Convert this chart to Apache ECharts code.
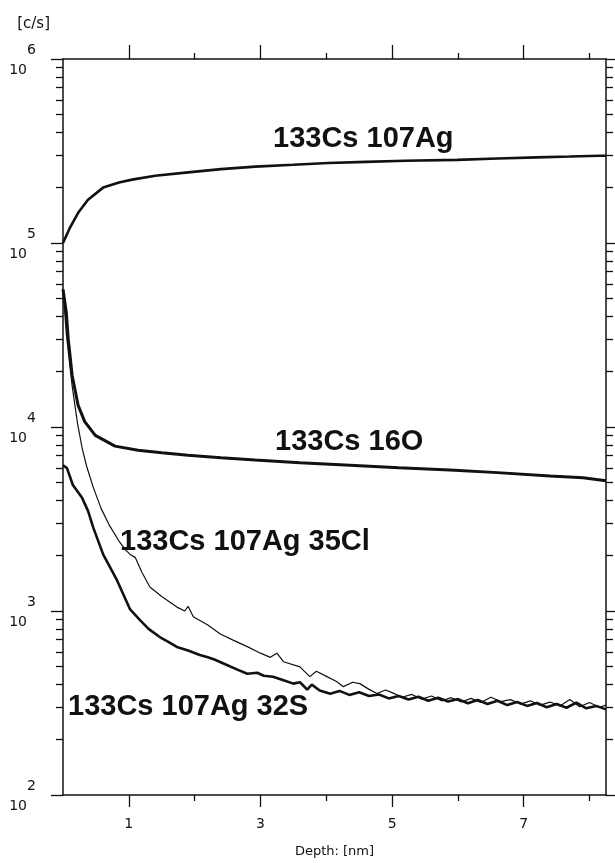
<!DOCTYPE html>
<html>
<head>
<meta charset="utf-8">
<script src="https://cdn.jsdelivr.net/npm/echarts@6/dist/echarts.min.js"></script>
<style>
  html, body { margin: 0; padding: 0; background: #fff; }
  #chart { width: 615px; height: 863px; }
</style>
</head>
<body>
<div id="chart"></div>
<script>
// depth profile, counts per second vs depth (nm)
var agX = [0, 0.1, 0.23, 0.38, 0.61, 0.85, 1.05, 1.4, 1.9, 2.4, 2.92, 3.5, 4.03, 4.6, 5.2, 5.99, 6.6, 7.2, 7.7, 8.16, 8.25];
var agY = [1.0e5, 1.2e5, 1.46e5, 1.72e5, 2.0e5, 2.13e5, 2.21e5, 2.32e5, 2.42e5, 2.52e5, 2.6e5, 2.66e5, 2.72e5, 2.76e5, 2.8e5, 2.83e5, 2.88e5, 2.92e5, 2.95e5, 2.98e5, 2.98e5];

var oX = [0, 0.05, 0.08, 0.14, 0.23, 0.33, 0.49, 0.79, 1.14, 1.5, 1.9, 2.4, 2.92, 3.6, 4.36, 5.1, 5.88, 6.6, 7.4, 7.9, 8.25];
var oY = [5.6e4, 4.2e4, 3.0e4, 1.9e4, 1.31e4, 1.07e4, 9.0e3, 7.87e3, 7.48e3, 7.25e3, 7.03e3, 6.8e3, 6.61e3, 6.4e3, 6.2e3, 6.0e3, 5.83e3, 5.65e3, 5.42e3, 5.3e3, 5.1e3];

var clX = [0, 0.05, 0.14, 0.22, 0.29, 0.36, 0.46, 0.58, 0.71, 0.85, 0.95, 1.02, 1.1, 1.2, 1.32, 1.5, 1.73, 1.85, 1.9, 1.98, 2.2, 2.39, 2.6, 2.8, 3.0, 3.15, 3.25, 3.35, 3.6, 3.75, 3.85, 4.01, 4.15, 4.26, 4.4, 4.51, 4.65, 4.77, 4.9, 5.0, 5.15, 5.3, 5.45, 5.6, 5.75, 5.9, 6.05, 6.2, 6.35, 6.5, 6.65, 6.8, 6.95, 7.1, 7.25, 7.4, 7.55, 7.7, 7.85, 8.0, 8.15, 8.25];
var clY = [5.6e4, 3.2e4, 1.66e4, 1.05e4, 7.7e3, 6.1e3, 4.7e3, 3.6e3, 2.9e3, 2.4e3, 2.15e3, 2.03e3, 1.95e3, 1.62e3, 1.35e3, 1.2e3, 1.05e3, 1.0e3, 1.06e3, 930, 840, 750, 690, 640, 590, 560, 590, 530, 497, 440, 470, 440, 415, 388, 410, 403, 375, 356, 372, 360, 340, 352, 332, 345, 325, 338, 320, 335, 318, 340, 322, 330, 312, 325, 308, 320, 305, 330, 302, 318, 300, 308];

var sX = [0, 0.06, 0.15, 0.29, 0.38, 0.46, 0.61, 0.82, 1.02, 1.17, 1.3, 1.47, 1.6, 1.73, 1.9, 2.08, 2.2, 2.3, 2.49, 2.65, 2.8, 2.95, 3.05, 3.19, 3.35, 3.5, 3.6, 3.71, 3.78, 3.9, 4.06, 4.2, 4.35, 4.5, 4.65, 4.8, 4.95, 5.1, 5.25, 5.4, 5.55, 5.7, 5.85, 6.0, 6.15, 6.3, 6.45, 6.6, 6.75, 6.9, 7.05, 7.2, 7.35, 7.5, 7.65, 7.8, 7.95, 8.1, 8.25];
var sY = [6.2e3, 5.98e3, 4.84e3, 4.12e3, 3.5e3, 2.84e3, 2.03e3, 1.47e3, 1.02e3, 892, 800, 722, 680, 638, 610, 577, 560, 545, 509, 480, 456, 462, 445, 439, 420, 403, 410, 374, 398, 370, 355, 368, 350, 362, 345, 352, 335, 345, 330, 342, 325, 338, 322, 332, 315, 328, 312, 325, 308, 320, 305, 316, 300, 312, 298, 318, 296, 305, 292];

var oddTicks = [1, 3, 5, 7];
var evenTicks = [2, 4, 6, 8];
var decades = [2, 3, 4, 5, 6];

var minorY = [];
decades.slice(0, 4).forEach(function (d) {
  for (var k = 2; k <= 9; k++) minorY.push(k * Math.pow(10, d));
});

function pairs(xs, ys) {
  return xs.map(function (x, i) { return [x, ys[i]]; });
}

var ink = '#111';
var axisFont = 'DejaVu Sans';

function xAx(pos, vals, len, withLabel, withLine) {
  return {
    type: 'value', min: 0, max: 8.25, interval: 1, position: pos,
    axisLine: { show: withLine, onZero: false, lineStyle: { color: ink, width: 1.5 } },
    axisTick: { show: true, customValues: vals, length: len, lineStyle: { color: ink, width: 1.3 } },
    axisLabel: withLabel ? { customValues: vals, margin: 22, color: ink, fontSize: 14, fontFamily: axisFont } : { show: false },
    splitLine: { show: false }
  };
}

function yAx(pos, vals, len, withLine) {
  var a = {
    type: 'log', logBase: 10, min: 100, max: 1e6, position: pos,
    axisLine: { show: withLine, onZero: false, lineStyle: { color: ink, width: 1.5 } },
    axisTick: { show: true, length: len, lineStyle: { color: ink, width: 1.3 } },
    axisLabel: { show: false },
    splitLine: { show: false },
    minorTick: { show: false }
  };
  if (vals) a.axisTick.customValues = vals;
  return a;
}

var yMain = yAx('left', null, 12, true);
yMain.axisLabel = {
  show: true, margin: 27, padding: [3, 0, 0, 0],
  formatter: function (v) {
    var e = Math.round(Math.log10(v));
    return '{e|' + e + '}\n{b|10}';
  },
  rich: {
    e: { fontSize: 14, lineHeight: 20, fontFamily: axisFont, color: ink },
    b: { fontSize: 14, lineHeight: 20, fontFamily: axisFont, color: ink, padding: [0, 9, 0, 0] }
  }
};
yMain.name = '[c/s]';
yMain.nameLocation = 'end';
yMain.nameGap = 35;
yMain.nameTextStyle = { align: 'right', verticalAlign: 'middle', padding: [0, 13, 0, 0], fontSize: 15, fontFamily: axisFont, color: ink };

var xMain = xAx('bottom', oddTicks, 12, true, true);
xMain.name = 'Depth: [nm]';
xMain.nameLocation = 'middle';
xMain.nameGap = 50;
xMain.nameTextStyle = { fontSize: 13, fontFamily: axisFont, color: ink };

function line(data, w) {
  return {
    type: 'line', data: data, xAxisIndex: 0, yAxisIndex: 0,
    showSymbol: false, symbol: 'none', smooth: false,
    lineStyle: { color: ink, width: w }, clip: true
  };
}

var labelFont = 'bold 29px "Liberation Sans", Arial, sans-serif';
function tag(text, x, y) {
  return { type: 'text', x: x, y: y, style: { text: text, font: labelFont, fill: ink, verticalAlign: 'middle', align: 'left' } };
}

var chart = echarts.init(document.getElementById('chart'), null, { renderer: 'canvas' });
chart.setOption({
  animation: false,
  backgroundColor: '#fff',
  grid: { left: 63, right: 9, top: 59, height: 741, containLabel: false },
  xAxis: [
    xMain,
    xAx('bottom', evenTicks, 6, false, false),
    xAx('top', oddTicks, 14, false, true),
    xAx('top', evenTicks, 6, false, false)
  ],
  yAxis: [
    yMain,
    yAx('left', minorY, 7, false),
    yAx('right', null, 12, true),
    yAx('right', minorY, 7, false)
  ],
  series: [
    line(pairs(agX, agY), 2.6),
    line(pairs(oX, oY), 3),
    line(pairs(clX, clY), 1.2),
    line(pairs(sX, sY), 2.6)
  ],
  graphic: [
    tag('133Cs 107Ag', 273, 139),
    tag('133Cs 16O', 275, 442),
    tag('133Cs 107Ag 35Cl', 120, 542),
    tag('133Cs 107Ag 32S', 68, 707)
  ]
});
</script>
</body>
</html>
